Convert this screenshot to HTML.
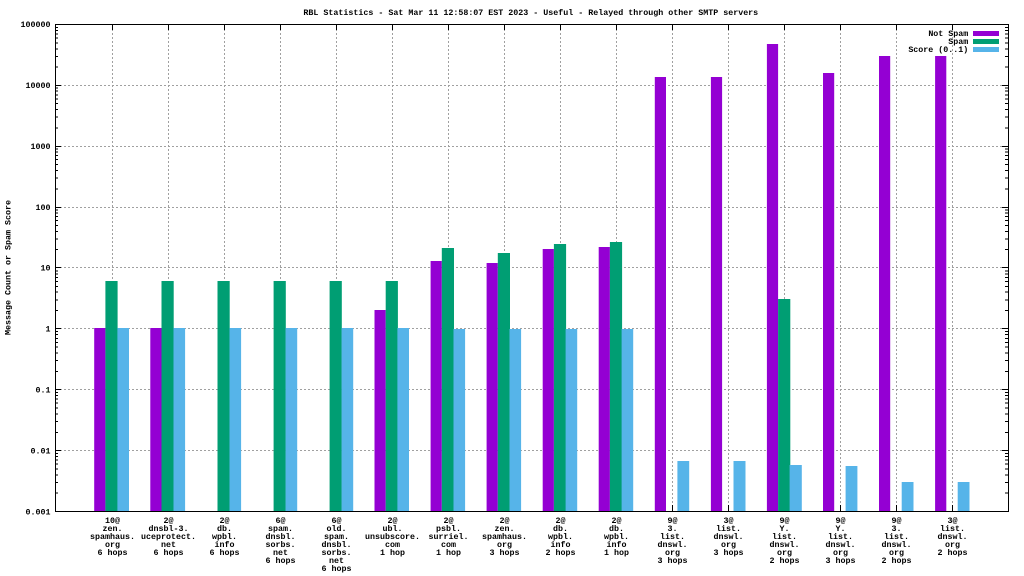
<!DOCTYPE html>
<html>
<head>
<meta charset="utf-8">
<style>
html,body{margin:0;padding:0;background:#fff;}
svg{display:block;}
text{font-family:"Liberation Mono","DejaVu Sans Mono",monospace;font-size:8.33px;fill:#000;font-weight:bold;}
</style>
</head>
<body>
<svg width="1024" height="576" viewBox="0 0 1024 576" xmlns="http://www.w3.org/2000/svg">
<defs>
<path id="mt" d="M55 -18.33h3M55 -29.04h3M55 -36.65h3M55 -42.55h3M55 -47.37h3M55 -51.45h3M55 -54.97h3M55 -58.09h3M1008 -18.33h-3M1008 -29.04h-3M1008 -36.65h-3M1008 -42.55h-3M1008 -47.37h-3M1008 -51.45h-3M1008 -54.97h-3M1008 -58.09h-3" stroke="#000" stroke-width="1" fill="none"/>
</defs>
<rect width="1024" height="576" fill="#fff"/>

<!-- grid -->
<g stroke="#a0a0a0" stroke-width="1" stroke-dasharray="2,2" fill="none" shape-rendering="crispEdges">
<path d="M56 85.5H1007M56 146.5H1007M56 207.5H1007M56 267.5H1007M56 328.5H1007M56 389.5H1007M56 450.5H1007"/>
<path d="M112.5 25V511M168.5 25V511M224.5 25V511M280.5 25V511M336.5 25V511M392.5 25V511M448.5 25V511M504.5 25V511M560.5 25V511M616.5 25V511M672.5 25V511M728.5 25V511M784.5 25V511M840.5 25V511M896.5 25V511M952.5 25V511"/>
</g>

<!-- ticks -->
<g stroke="#000" stroke-width="1" fill="none" shape-rendering="crispEdges">
<path d="M112.5 511v-6M168.5 511v-6M224.5 511v-6M280.5 511v-6M336.5 511v-6M392.5 511v-6M448.5 511v-6M504.5 511v-6M560.5 511v-6M616.5 511v-6M672.5 511v-6M728.5 511v-6M784.5 511v-6M840.5 511v-6M896.5 511v-6M952.5 511v-6"/>
<path d="M112.5 24v6M168.5 24v6M224.5 24v6M280.5 24v6M336.5 24v6M392.5 24v6M448.5 24v6M504.5 24v6M560.5 24v6M616.5 24v6M672.5 24v6M728.5 24v6M784.5 24v6M840.5 24v6M896.5 24v6M952.5 24v6"/>
<path d="M55 85.5h6M55 146.5h6M55 207.5h6M55 267.5h6M55 328.5h6M55 389.5h6M55 450.5h6M1008 85.5h-6M1008 146.5h-6M1008 207.5h-6M1008 267.5h-6M1008 328.5h-6M1008 389.5h-6M1008 450.5h-6"/>
</g>
<g shape-rendering="crispEdges">
<use href="#mt" y="511.5"/>
<use href="#mt" y="450.6"/>
<use href="#mt" y="389.7"/>
<use href="#mt" y="328.9"/>
<use href="#mt" y="268"/>
<use href="#mt" y="207.1"/>
<use href="#mt" y="146.2"/>
<use href="#mt" y="85.4"/>
</g>

<!-- bars: Not Spam (purple) -->
<g fill="#9400d3">
<rect x="94.2" y="328" width="11.2" height="183"/>
<rect x="150.3" y="328" width="11.2" height="183"/>
<rect x="374.5" y="310" width="11.2" height="201"/>
<rect x="430.6" y="261" width="11.2" height="250"/>
<rect x="486.6" y="263" width="11.2" height="248"/>
<rect x="542.7" y="249" width="11.2" height="262"/>
<rect x="598.7" y="247" width="11.2" height="264"/>
<rect x="654.8" y="77" width="11.2" height="434"/>
<rect x="710.9" y="77" width="11.2" height="434"/>
<rect x="766.9" y="44" width="11.2" height="467"/>
<rect x="823" y="73" width="11.2" height="438"/>
<rect x="879" y="56" width="11.2" height="455"/>
<rect x="935.1" y="56" width="11.2" height="455"/>
</g>
<!-- Spam (green) -->
<g fill="#009e73">
<rect x="105.4" y="281" width="12.2" height="230"/>
<rect x="161.5" y="281" width="12.2" height="230"/>
<rect x="217.5" y="281" width="12.2" height="230"/>
<rect x="273.6" y="281" width="12.2" height="230"/>
<rect x="329.6" y="281" width="12.2" height="230"/>
<rect x="385.7" y="281" width="12.2" height="230"/>
<rect x="441.8" y="248" width="12.2" height="263"/>
<rect x="497.8" y="253" width="12.2" height="258"/>
<rect x="553.9" y="244" width="12.2" height="267"/>
<rect x="609.9" y="242" width="12.2" height="269"/>
<rect x="778.1" y="299" width="12.2" height="212"/>
</g>
<!-- Score (blue) -->
<g fill="#56b4e9">
<rect x="117.4" y="328" width="11.6" height="183"/>
<rect x="173.5" y="328" width="11.6" height="183"/>
<rect x="229.5" y="328" width="11.6" height="183"/>
<rect x="285.6" y="328" width="11.6" height="183"/>
<rect x="341.6" y="328" width="11.6" height="183"/>
<rect x="397.4" y="328" width="11.6" height="183"/>
<rect x="453.5" y="329" width="11.6" height="182"/>
<rect x="509.5" y="329" width="11.6" height="182"/>
<rect x="565.6" y="329" width="11.6" height="182"/>
<rect x="621.6" y="329" width="11.6" height="182"/>
<rect x="677.4" y="461" width="11.8" height="50"/>
<rect x="733.5" y="461" width="12" height="50"/>
<rect x="789.6" y="465" width="12.2" height="46"/>
<rect x="845.6" y="466" width="11.8" height="45"/>
<rect x="901.7" y="482" width="11.8" height="29"/>
<rect x="957.7" y="482" width="11.8" height="29"/>
</g>

<!-- border -->
<rect x="55.5" y="24.5" width="953" height="487" fill="none" stroke="#000" stroke-width="1" shape-rendering="crispEdges"/>

<!-- title -->
<text x="530.8" y="15" text-anchor="middle">RBL Statistics - Sat Mar 11 12:58:07 EST 2023 - Useful - Relayed through other SMTP servers</text>

<!-- y tick labels -->
<g text-anchor="end">
<text x="50.5" y="27.2">100000</text>
<text x="50.5" y="88.2">10000</text>
<text x="50.5" y="149.2">1000</text>
<text x="50.5" y="210.2">100</text>
<text x="50.5" y="270.7">10</text>
<text x="50.5" y="331.7">1</text>
<text x="50.5" y="392.7">0.1</text>
<text x="50.5" y="453.7">0.01</text>
<text x="50.5" y="514.5">0.001</text>
</g>

<!-- y label -->
<text transform="translate(10.5,267.5) rotate(-90)" text-anchor="middle">Message Count or Spam Score</text>

<!-- legend -->
<g text-anchor="end">
<text x="968.3" y="36">Not Spam</text>
<text x="968.3" y="44">Spam</text>
<text x="968.3" y="52">Score (0..1)</text>
</g>
<rect x="973" y="31" width="26" height="5" fill="#9400d3"/>
<rect x="973" y="39" width="26" height="5" fill="#009e73"/>
<rect x="973" y="47" width="26" height="5" fill="#56b4e9"/>

<!-- x labels -->
<g text-anchor="middle">
<text x="112.5" y="523">10@</text><text x="112.5" y="531">zen.</text><text x="112.5" y="539">spamhaus.</text><text x="112.5" y="547">org</text><text x="112.5" y="555">6 hops</text>
<text x="168.5" y="523">2@</text><text x="168.5" y="531">dnsbl-3.</text><text x="168.5" y="539">uceprotect.</text><text x="168.5" y="547">net</text><text x="168.5" y="555">6 hops</text>
<text x="224.5" y="523">2@</text><text x="224.5" y="531">db.</text><text x="224.5" y="539">wpbl.</text><text x="224.5" y="547">info</text><text x="224.5" y="555">6 hops</text>
<text x="280.5" y="523">6@</text><text x="280.5" y="531">spam.</text><text x="280.5" y="539">dnsbl.</text><text x="280.5" y="547">sorbs.</text><text x="280.5" y="555">net</text><text x="280.5" y="563">6 hops</text>
<text x="336.5" y="523">6@</text><text x="336.5" y="531">old.</text><text x="336.5" y="539">spam.</text><text x="336.5" y="547">dnsbl.</text><text x="336.5" y="555">sorbs.</text><text x="336.5" y="563">net</text><text x="336.5" y="571">6 hops</text>
<text x="392.5" y="523">2@</text><text x="392.5" y="531">ubl.</text><text x="392.5" y="539">unsubscore.</text><text x="392.5" y="547">com</text><text x="392.5" y="555">1 hop</text>
<text x="448.5" y="523">2@</text><text x="448.5" y="531">psbl.</text><text x="448.5" y="539">surriel.</text><text x="448.5" y="547">com</text><text x="448.5" y="555">1 hop</text>
<text x="504.5" y="523">2@</text><text x="504.5" y="531">zen.</text><text x="504.5" y="539">spamhaus.</text><text x="504.5" y="547">org</text><text x="504.5" y="555">3 hops</text>
<text x="560.5" y="523">2@</text><text x="560.5" y="531">db.</text><text x="560.5" y="539">wpbl.</text><text x="560.5" y="547">info</text><text x="560.5" y="555">2 hops</text>
<text x="616.5" y="523">2@</text><text x="616.5" y="531">db.</text><text x="616.5" y="539">wpbl.</text><text x="616.5" y="547">info</text><text x="616.5" y="555">1 hop</text>
<text x="672.5" y="523">9@</text><text x="672.5" y="531">3.</text><text x="672.5" y="539">list.</text><text x="672.5" y="547">dnswl.</text><text x="672.5" y="555">org</text><text x="672.5" y="563">3 hops</text>
<text x="728.5" y="523">3@</text><text x="728.5" y="531">list.</text><text x="728.5" y="539">dnswl.</text><text x="728.5" y="547">org</text><text x="728.5" y="555">3 hops</text>
<text x="784.5" y="523">9@</text><text x="784.5" y="531">Y.</text><text x="784.5" y="539">list.</text><text x="784.5" y="547">dnswl.</text><text x="784.5" y="555">org</text><text x="784.5" y="563">2 hops</text>
<text x="840.5" y="523">9@</text><text x="840.5" y="531">Y.</text><text x="840.5" y="539">list.</text><text x="840.5" y="547">dnswl.</text><text x="840.5" y="555">org</text><text x="840.5" y="563">3 hops</text>
<text x="896.5" y="523">9@</text><text x="896.5" y="531">3.</text><text x="896.5" y="539">list.</text><text x="896.5" y="547">dnswl.</text><text x="896.5" y="555">org</text><text x="896.5" y="563">2 hops</text>
<text x="952.5" y="523">3@</text><text x="952.5" y="531">list.</text><text x="952.5" y="539">dnswl.</text><text x="952.5" y="547">org</text><text x="952.5" y="555">2 hops</text>
</g>
</svg>
</body>
</html>
